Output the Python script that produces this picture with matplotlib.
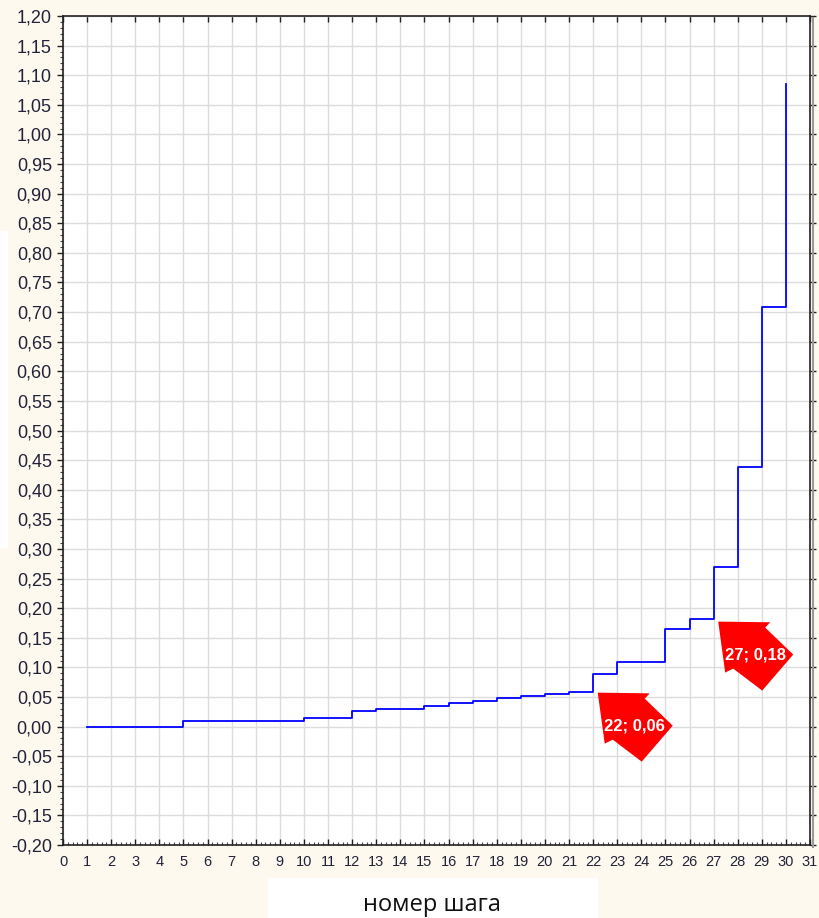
import numpy as np
import matplotlib
matplotlib.use("Agg")
import matplotlib.pyplot as plt
from matplotlib.ticker import MultipleLocator, FuncFormatter, FixedLocator
from matplotlib.transforms import ScaledTranslation
from matplotlib.patches import Polygon, Rectangle
from matplotlib.lines import Line2D

# ---- data ----
steps = list(range(1, 31))
distances = [0.000, 0.000, 0.000, 0.000, 0.010, 0.010, 0.010, 0.010, 0.010,
             0.015, 0.015, 0.027, 0.030, 0.030, 0.034, 0.040, 0.044, 0.049,
             0.052, 0.055, 0.059, 0.089, 0.109, 0.109, 0.164, 0.181, 0.270,
             0.438, 0.709, 1.086]
x_ticks = list(range(0, 32))
y_ticks = [round(-0.20 + 0.05 * i, 2) for i in range(29)]
annot_points = [(22, 0.06), (27, 0.18)]
annot_labels = ["22; 0,06", "27; 0,18"]
x_label = "номер шага"

W, H = 819, 918
DPI = 100
cream = "#FEF9EE"
fig = plt.figure(figsize=(W / DPI, H / DPI), dpi=DPI, facecolor=cream)

# white patches of the original screenshot
fig.patches.append(Rectangle((268 / W, 0), (598 - 268) / W, (918 - 878) / H,
                             transform=fig.transFigure, facecolor="white",
                             edgecolor="none", zorder=0))
fig.patches.append(Rectangle((0, 1 - 548 / H), 8 / W, (548 - 231) / H,
                             transform=fig.transFigure, facecolor="white",
                             edgecolor="none", zorder=0))

left, right, top, bottom = 63, 810, 16, 845
ax = fig.add_axes([left / W, 1 - bottom / H, (right - left) / W, (bottom - top) / H])
ax.set_facecolor("white")

ax.plot(steps, distances, drawstyle="steps-post", color="#0000FF", lw=1.3, zorder=3)

ax.set_xlim(0, 31)
ax.set_ylim(-0.20, 1.20)
ax.xaxis.set_major_locator(FixedLocator(x_ticks))
ax.yaxis.set_major_locator(FixedLocator(y_ticks))
ax.xaxis.set_minor_locator(MultipleLocator(0.2))
ax.yaxis.set_minor_locator(MultipleLocator(0.01))
ax.yaxis.set_major_formatter(FuncFormatter(lambda v, p: f"{v:.2f}".replace(".", ",")))
ax.xaxis.set_major_formatter(FuncFormatter(lambda v, p: f"{int(round(v))}"))

ax.grid(True, which="major", color="#DCDCDC", lw=1.0, zorder=0)
ax.set_axisbelow(True)

lab_col = "#22223A"
ax.tick_params(axis="y", which="major", direction="out", length=4, width=1,
               color="#222222", labelsize=13, labelcolor=lab_col, pad=4,
               right=True)
ax.tick_params(axis="y", which="minor", direction="out", length=2, width=0.8,
               color="#444444")
ax.tick_params(axis="x", which="major", direction="in", length=4, width=1,
               color="#222222", labelsize=10.5, labelcolor=lab_col, pad=7,
               top=True)
ax.tick_params(axis="x", which="minor", direction="in", length=2, width=0.8,
               color="#444444")
for lab in ax.get_xticklabels() + ax.get_yticklabels():
    lab.set_fontfamily(["Liberation Sans", "DejaVu Sans"])

for s in ax.spines.values():
    s.set_color("#222222")
    s.set_linewidth(1.2)

# shadow at the right edge
fig.lines.append(Line2D([812.5 / W, 812.5 / W], [1 - 847 / H, 1 - 18 / H],
                        transform=fig.transFigure, color="#9A9A9A", lw=1.5))

# red block arrows (shape in pixels relative to the tip, y up)
shape_px = [(0, 0), (52, -0.7), (47, -6), (75, -33), (44, -69), (15, -47), (7, -51)]
tip_off = (4.6, -1.6)
text_off = (37, -33.5)
for (px, py), lbl in zip(annot_points, annot_labels):
    trans = fig.dpi_scale_trans + ScaledTranslation(px, py, ax.transData)
    verts = [((vx + tip_off[0]) / DPI, (vy + tip_off[1]) / DPI) for vx, vy in shape_px]
    poly = Polygon(verts, closed=True, transform=trans, facecolor="#FF0000",
                   edgecolor="none", clip_on=False, zorder=5)
    ax.add_patch(poly)
    ax.text((text_off[0] + tip_off[0]) / DPI, (text_off[1] + tip_off[1]) / DPI, lbl,
            transform=trans, ha="center", va="center", color="white",
            fontsize=12, fontweight="bold", family=["Liberation Sans", "DejaVu Sans"],
            zorder=6, clip_on=False)

fig.text(432 / W, 1 - 911 / H, x_label, ha="center", va="baseline",
         fontsize=17, color="#111111", family=["Open Sans", "DejaVu Sans"])

fig.savefig("out.png", dpi=DPI, facecolor=cream)
